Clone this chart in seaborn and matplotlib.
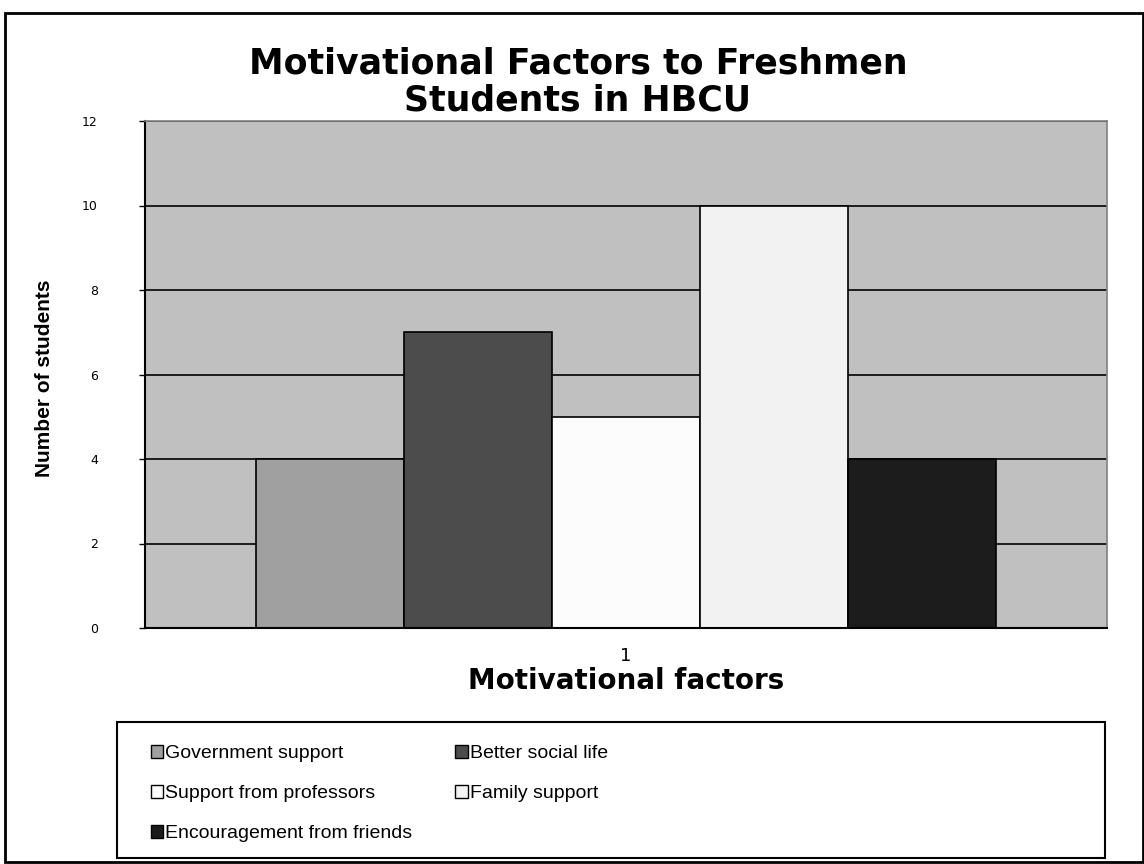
import matplotlib
matplotlib.use("Agg")
import matplotlib.pyplot as plt
import seaborn as sns
import pandas as pd
from matplotlib.patches import Rectangle

# data
category = ["1"] * 5
factors = ["Government support", "Better social life", "Support from professors",
           "Family support", "Encouragement from friends"]
counts = [4, 7, 5, 10, 4]
bar_colors = ["#A0A0A0", "#4C4C4C", "#FCFCFC", "#F2F2F2", "#1C1C1C"]
y_ticks = [0, 2, 4, 6, 8, 10, 12]

df = pd.DataFrame({"cat": category, "factor": factors, "count": counts})

sns.set_theme(style="white")
plt.rcParams['font.family'] = ['Liberation Sans', 'DejaVu Sans']
plt.rcParams['text.color'] = 'black'

fig = plt.figure(figsize=(11.44, 8.64), dpi=100)
ax = fig.add_axes([145 / 1144, 1 - 628 / 864, (1107 - 145) / 1144, (628 - 121) / 864])
ax.set_facecolor("#C0C0C0")

sns.barplot(data=df, x="cat", y="count", hue="factor", hue_order=factors,
            palette=bar_colors, width=0.77, edgecolor="black", linewidth=1.2,
            saturation=1, ax=ax)

ax.set_ylim(0, 12)
ax.set_yticks(y_ticks)
ax.set_yticklabels([str(t) for t in y_ticks], fontsize=9, family="DejaVu Sans")
ax.yaxis.grid(True, color="black", linewidth=1.2)
ax.set_axisbelow(True)
ax.tick_params(axis="y", left=True, length=4, width=1, pad=30, colors="black")
ax.tick_params(axis="x", bottom=False, labelsize=13, pad=8, colors="black")
for lbl in ax.get_xticklabels():
    lbl.set_family("DejaVu Sans")

for s in ["left", "bottom"]:
    ax.spines[s].set_color("black")
    ax.spines[s].set_linewidth(1.5)
for s in ["top", "right"]:
    ax.spines[s].set_color("#808080")
    ax.spines[s].set_linewidth(1.2)

ax.set_xlabel("Motivational factors", fontsize=20, fontweight="bold",
              family="DejaVu Sans", color="black", labelpad=1)
ax.set_ylabel("")
fig.text(45 / 1144, 1 - 378 / 864, "Number of students", rotation=90,
         ha="center", va="center", fontsize=15, fontweight="bold",
         family=["Liberation Sans Narrow", "Liberation Sans", "DejaVu Sans"],
         fontstretch="condensed", color="black")

fig.text(578 / 1144, 1 - 82 / 864, "Motivational Factors to Freshmen\nStudents in HBCU",
         ha="center", va="center", fontsize=25, fontweight="bold",
         family="DejaVu Sans", linespacing=1.12, color="black")

# legend, filled row by row like the reference
handles, labels = ax.get_legend_handles_labels()
if ax.get_legend() is not None:
    ax.get_legend().remove()
for h in handles:
    h.set_linewidth(1.0)
order = [0, 2, 4, 1, 3]
fig.legend([handles[i] for i in order], [labels[i] for i in order], ncol=2,
           loc="upper left", bbox_to_anchor=(143 / 1144, 1 - 737 / 864), frameon=False,
           fontsize=14, handlelength=0.65, handleheight=0.65, handletextpad=0.1,
           columnspacing=2.2, labelspacing=1.16, borderaxespad=0)

fig.patches.append(Rectangle((117 / 1144, 1 - 858 / 864), (1105 - 117) / 1144, (858 - 722) / 864,
                             transform=fig.transFigure, fill=False, edgecolor="black",
                             linewidth=1.5))
fig.patches.append(Rectangle((5 / 1144, 1 - 862 / 864), (1143 - 5) / 1144, (862 - 13) / 864,
                             transform=fig.transFigure, fill=False, edgecolor="black",
                             linewidth=2))

fig.savefig("out.png", dpi=100)
